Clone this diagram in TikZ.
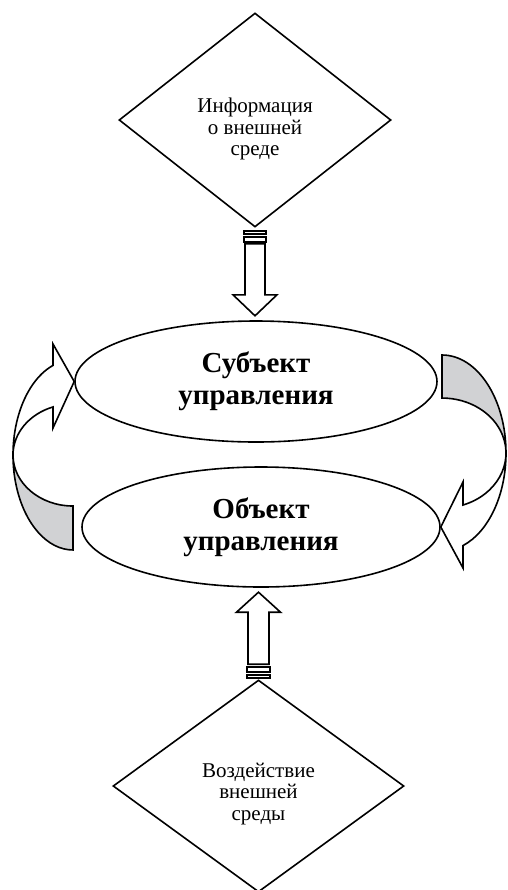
\documentclass[tikz,border=0pt]{standalone}
\usepackage{fontspec}
\setmainfont{Liberation Serif}
\usetikzlibrary{shapes.geometric}
\definecolor{backgray}{RGB}{209,210,212}
\begin{document}
\begin{tikzpicture}[x=0.5pt,y=-0.5pt,line width=0.8pt,
    romb/.style={draw,diamond,inner sep=0pt},
    oval/.style={draw,ellipse,inner sep=0pt,align=center,font=\fontsize{14.5}{16}\selectfont\bfseries},
    rtext/.style={align=center,inner sep=0pt,font=\fontsize{10.5}{10.6}\selectfont},
    bigarrow/.style={draw,fill=white}]
        \useasboundingbox (0,0) rectangle (508,890);

        \node [romb, minimum width=136pt, minimum height=107pt] (info) at (255,120) {};
        \node [rtext] (infotext) at (255,129) {Информация\\о внешней\\среде};

        \node [oval, minimum width=181pt, minimum height=60.5pt] (subj) at (256,381.5) {Субъект\\управления};
        \node [oval, minimum width=179pt, minimum height=60pt] (obj) at (261,527) {Объект\\управления};

        \node [romb, minimum width=145.5pt, minimum height=106pt] (impact) at (258.5,786) {};
        \node [rtext] (impacttext) at (258.5,794) {Воздействие\\внешней\\среды};

        % information -> subject
        \begin{scope}[shift={(info.south)}]
            \draw (-11,3) rectangle (11,6);
            \draw (-11,9) rectangle (11,14);
            \draw [bigarrow] (-10,16) -- (-10,67) -- (-22,67) -- (0,88) -- (22,67) -- (10,67) -- (10,16) -- cycle;
        \end{scope}

        % impact -> object
        \begin{scope}[shift={(impact.north)}]
            \draw (-11.5,-4) rectangle (11.5,-1);
            \draw (-11.5,-12) rectangle (11.5,-7);
            \draw [bigarrow] (-10.5,-15) -- (-10.5,-67) -- (-22,-67) -- (0,-87) -- (22,-67) -- (10.5,-67) -- (10.5,-15) -- cycle;
        \end{scope}

        % object -> subject, left side
        \fill [backgray] (13,455) arc[start angle=180, end angle=90, x radius=60, y radius=95] -- (73,506) arc[start angle=90, end angle=180, x radius=60, y radius=51] -- cycle;
        \draw (subj.west) -- (53,344) -- (53,365.4) arc[start angle=250.53, end angle=90, x radius=60, y radius=95] -- (73,506) arc[start angle=90, end angle=250.53, x radius=60, y radius=51] -- (53,428) -- cycle;

        % subject -> object, right side
        \fill [backgray] (442,355) arc[start angle=-90, end angle=0, x radius=64, y radius=98] arc[start angle=0, end angle=-90, x radius=64, y radius=55] -- cycle;
        \draw (obj.east) -- (463,482) -- (463,505) arc[start angle=70.85, end angle=-90, x radius=64, y radius=55] -- (442,355) arc[start angle=-90, end angle=70.85, x radius=64, y radius=98] -- (463,568) -- cycle;
    \end{tikzpicture}
\end{document}
